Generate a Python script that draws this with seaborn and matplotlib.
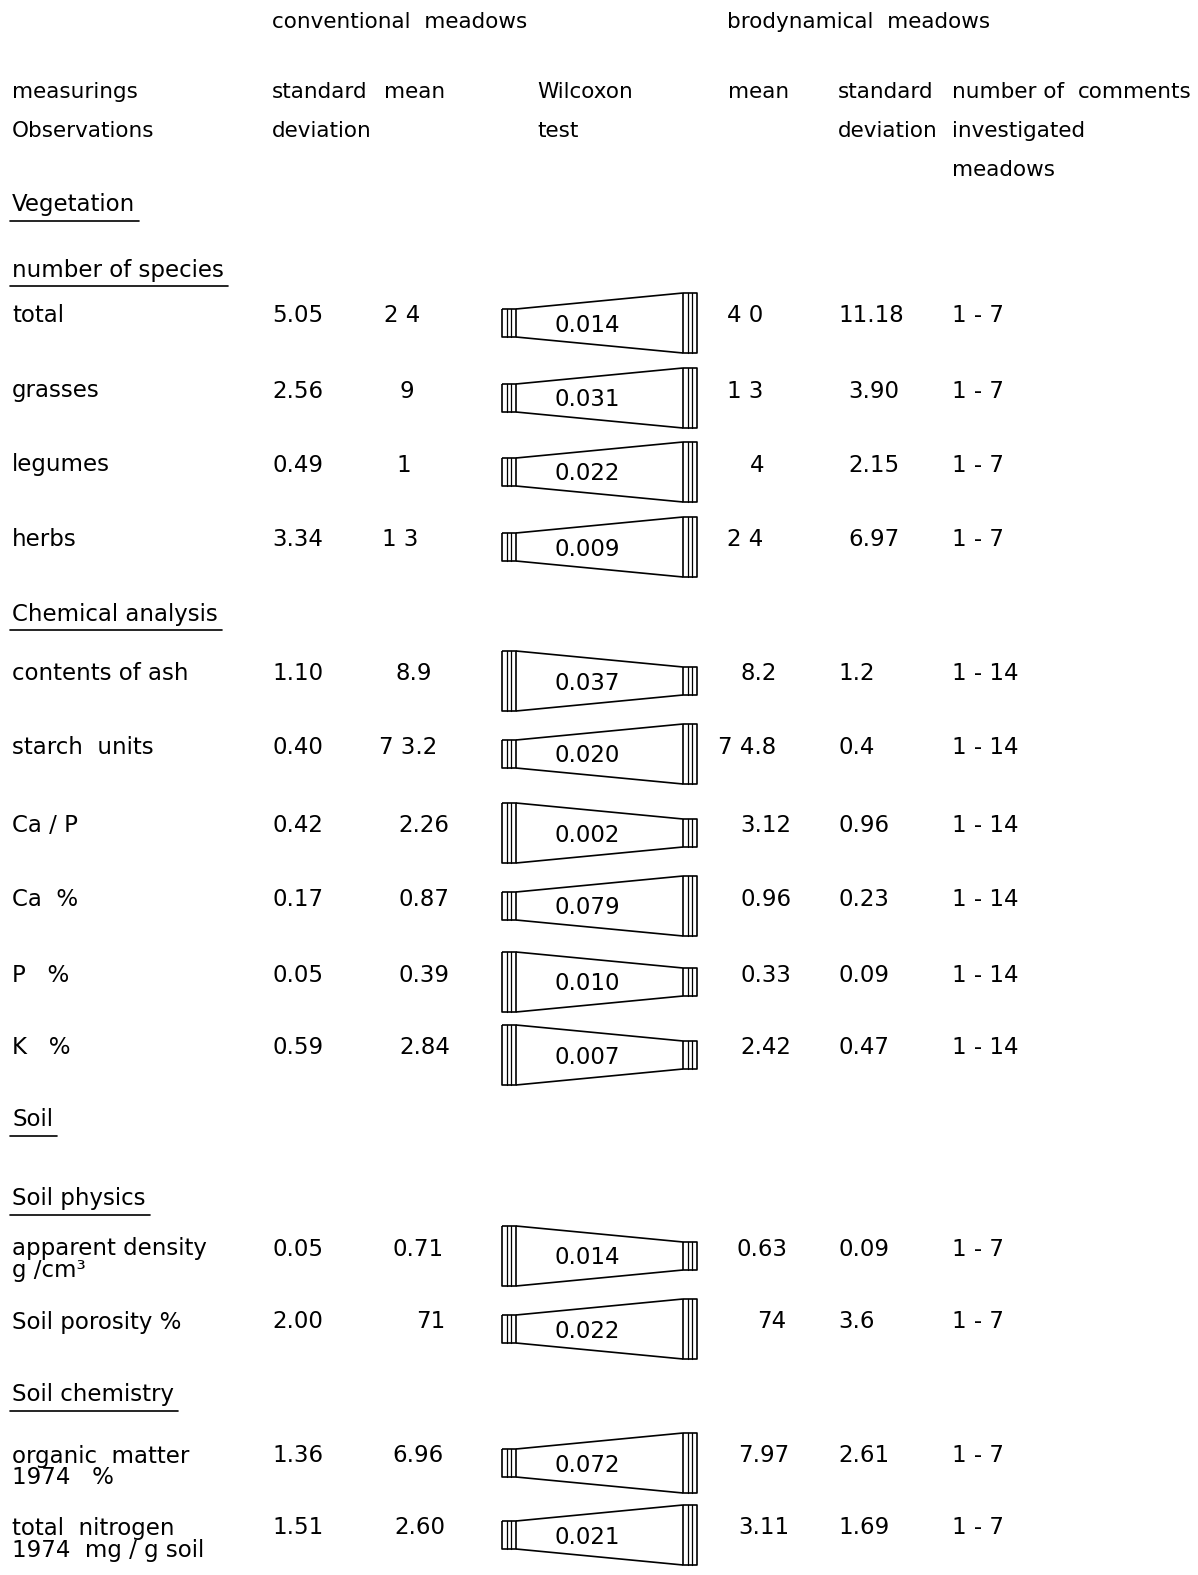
import matplotlib
matplotlib.use("Agg")
import matplotlib.pyplot as plt
import seaborn as sns

# ---- table data ----
sections = ['Vegetation', 'number of species', 'Chemical analysis', 'Soil', 'Soil physics', 'Soil chemistry']
rows = ['total', 'grasses', 'legumes', 'herbs',
        'contents of ash', 'starch  units', 'Ca / P', 'Ca  %', 'P   %', 'K   %',
        'apparent density\ng /cm³', 'Soil porosity %',
        'organic  matter\n1974   %', 'total  nitrogen\n1974  mg / g soil']
conv_sd = ['5.05', '2.56', '0.49', '3.34', '1.10', '0.40', '0.42', '0.17', '0.05', '0.59', '0.05', '2.00', '1.36', '1.51']
conv_mean = ['2 4', '9', '1', '1 3', '8.9', '7 3.2', '2.26', '0.87', '0.39', '2.84', '0.71', '71', '6.96', '2.60']
wilcoxon = ['0.014', '0.031', '0.022', '0.009', '0.037', '0.020', '0.002', '0.079', '0.010', '0.007',
            '0.014', '0.022', '0.072', '0.021']
wide_side = ['right', 'right', 'right', 'right', 'left', 'right', 'left', 'right', 'left', 'left',
             'left', 'right', 'right', 'right']
bio_mean = ['4 0', '1 3', '4', '2 4', '8.2', '7 4.8', '3.12', '0.96', '0.33', '2.42', '0.63', '74', '7.97', '3.11']
bio_sd = ['11.18', '3.90', '2.15', '6.97', '1.2', '0.4', '0.96', '0.23', '0.09', '0.47', '0.09', '3.6', '2.61', '1.69']
n_meadows = ['1 - 7'] * 4 + ['1 - 14'] * 6 + ['1 - 7'] * 4

# ---- layout (pixels) ----
W, H = 1198, 1575
row_y = [314, 389, 463, 538, 672, 745, 824, 897, 973, 1046, 1247, 1320, 1454, 1526]
section_y = [203, 268, 612, 1118, 1197, 1393]
conv_mean_right = [420, 414, 411, 418, 432, 437, 449, 449, 449, 450, 444, 445, 444, 445]
bio_mean_left = [727, 727, 750, 727, 740, 718, 740, 740, 740, 740, 737, 757, 738, 738]
bio_sd_left = [838, 848, 848, 848, 838, 838, 838, 838, 838, 838, 838, 838, 838, 838]

sns.set_style('white')
plt.rcParams['font.family'] = ['DejaVu Sans']
FS = 16.5
HFS = 15.5
LW = 1.2

fig = plt.figure(figsize=(W / 100, H / 100), dpi=100)
ax = fig.add_axes([0, 0, 1, 1])
ax.set_xlim(0, W)
ax.set_ylim(H, 0)
ax.axis('off')


def txt(x, y, s, ha='left', size=FS):
    return ax.text(x, y + 2, s, ha=ha, va='center', fontsize=size, color='black')


# headers
txt(272, 20, 'conventional  meadows', size=HFS)
txt(727, 20, 'brodynamical  meadows', size=HFS)
head = [(12, 'measurings\nObservations'), (272, 'standard\ndeviation'), (384, 'mean'),
        (537, 'Wilcoxon\ntest'), (728, 'mean'), (838, 'standard\ndeviation'),
        (952, 'number of\ninvestigated\nmeadows'), (1078, 'comments')]
for x, s in head:
    for k, line in enumerate(s.split('\n')):
        txt(x, 90 + 39 * k, line, size=HFS)

# section headings, underlined
sec_texts = [txt(12, y, s) for s, y in zip(sections, section_y)]
fig.canvas.draw()
r = fig.canvas.get_renderer()
for t, y in zip(sec_texts, section_y):
    bb = t.get_window_extent(r)
    ax.plot([10, bb.x1 + 4], [y + 18, y + 18], color='black', lw=LW)


def trapezoid(yc, side):
    x0, x1, x2, x3 = 502, 516, 683, 697
    hw, hn = 30, 14
    if side == 'right':
        hl, hr = hn, hw
    else:
        hl, hr = hw, hn
    kw = dict(color='black', lw=LW, solid_capstyle='butt')
    # slanted body
    ax.plot([x1, x2], [yc - hl, yc - hr], **kw)
    ax.plot([x1, x2], [yc + hl, yc + hr], **kw)
    # end blocks with inner strokes
    for a, b, h in [(x0, x1, hl), (x2, x3, hr)]:
        ax.plot([a, b, b, a, a], [yc - h, yc - h, yc + h, yc + h, yc - h], **kw)
        for xi in (a + (b - a) / 3, a + 2 * (b - a) / 3):
            ax.plot([xi, xi], [yc - h, yc + h], color='black', lw=0.9)


for i, lab in enumerate(rows):
    y = row_y[i]
    for k, line in enumerate(lab.split('\n')):
        txt(12, y + 22 * k, line)
    txt(272, y, conv_sd[i])
    txt(conv_mean_right[i], y, conv_mean[i], ha='right')
    yc = y + 9
    trapezoid(yc, wide_side[i])
    txt(587, yc, wilcoxon[i], ha='center')
    txt(bio_mean_left[i], y, bio_mean[i])
    txt(bio_sd_left[i], y, bio_sd[i])
    txt(952, y, n_meadows[i])

fig.savefig('out.png', dpi=100, facecolor='white')
